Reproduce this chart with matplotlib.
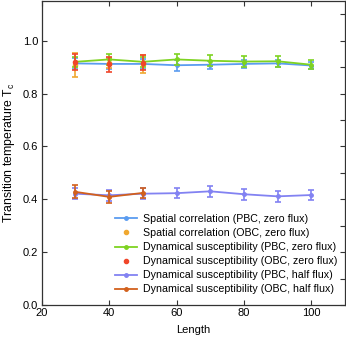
import matplotlib
matplotlib.use("Agg")
import matplotlib.pyplot as plt
from matplotlib.ticker import MultipleLocator, FormatStrFormatter

plt.rcParams['font.family'] = ['Liberation Sans', 'DejaVu Sans']

lengths = [30, 40, 50, 60, 70, 80, 90, 100]
lengths_obc = [30, 40, 50]

spatial_pbc = [0.914, 0.912, 0.912, 0.907, 0.909, 0.912, 0.914, 0.906]
spatial_pbc_err = [0.02, 0.02, 0.02, 0.02, 0.015, 0.015, 0.012, 0.012]

spatial_obc = [0.908, 0.915, 0.912]
spatial_obc_err = [0.044, 0.02, 0.035]

dyn_pbc_zero = [0.92, 0.929, 0.92, 0.929, 0.924, 0.921, 0.922, 0.909]
dyn_pbc_zero_err = [0.02, 0.022, 0.02, 0.02, 0.02, 0.02, 0.02, 0.018]

dyn_obc_zero = [0.92, 0.91, 0.917]
dyn_obc_zero_err = [0.03, 0.027, 0.027]

dyn_pbc_half = [0.421, 0.415, 0.421, 0.423, 0.43, 0.419, 0.411, 0.416]
dyn_pbc_half_err = [0.021, 0.02, 0.02, 0.02, 0.02, 0.02, 0.02, 0.018]

dyn_obc_half = [0.428, 0.409, 0.424]
dyn_obc_half_err = [0.025, 0.022, 0.02]

labels = [
    "Spatial correlation (PBC, zero flux)",
    "Spatial correlation (OBC, zero flux)",
    "Dynamical susceptibility (PBC, zero flux)",
    "Dynamical susceptibility (OBC, zero flux)",
    "Dynamical susceptibility (PBC, half flux)",
    "Dynamical susceptibility (OBC, half flux)",
]

c_blue = "#5b9cf0"
c_orange = "#f0a830"
c_green = "#7ed321"
c_red = "#f0462a"
c_purple = "#8282f2"
c_brown = "#d2601c"

fig = plt.figure(figsize=(3.46, 3.40), dpi=100)
ax = fig.add_axes([0.1205, 0.103, 0.877, 0.894])

ek = dict(fmt='none', capsize=2.5, elinewidth=1.2, capthick=1.2)

series = [
    (lengths, spatial_pbc, spatial_pbc_err, c_blue, True),
    (lengths_obc, spatial_obc, spatial_obc_err, c_orange, False),
    (lengths, dyn_pbc_zero, dyn_pbc_zero_err, c_green, True),
    (lengths_obc, dyn_obc_zero, dyn_obc_zero_err, c_red, False),
    (lengths, dyn_pbc_half, dyn_pbc_half_err, c_purple, True),
    (lengths_obc, dyn_obc_half, dyn_obc_half_err, c_brown, True),
]

handles = []
for (x, y, e, c, line), lab in zip(series, labels):
    ax.errorbar(x, y, yerr=e, ecolor=c, **ek)
    if line:
        h, = ax.plot(x, y, color=c, lw=1.3, marker='o', ms=2.5, label=lab)
    else:
        h, = ax.plot(x, y, color=c, lw=0, marker='o', ms=3, label=lab)
    handles.append(h)

ax.set_xlim(20, 110)
ax.set_ylim(0, 1.15)
ax.xaxis.set_major_locator(MultipleLocator(20))
ax.yaxis.set_major_locator(MultipleLocator(0.2))
ax.yaxis.set_major_formatter(FormatStrFormatter('%.1f'))

ax.tick_params(direction='in', length=3.5, width=0.8, labelsize=8,
               colors='#333333', top=True, right=False, pad=2.5)
ax.tick_params(axis='both', labelcolor='black')
sec = ax.secondary_yaxis('right')
sec.yaxis.set_major_locator(MultipleLocator(0.1))
sec.tick_params(direction='in', length=3.5, width=0.8, labelright=False, colors='#333333')
sec.spines['right'].set_visible(False)

for s in ax.spines.values():
    s.set_color('#333333')
    s.set_linewidth(0.9)

ax.set_xlabel("Length", fontsize=8, labelpad=5)
ax.set_ylabel("Transition temperature T$_\\mathregular{c}$", fontsize=8.8, labelpad=4)

leg = ax.legend(handles=handles, loc='lower right', bbox_to_anchor=(1.0, 0.01),
                frameon=False, fontsize=7.7, labelspacing=0.38, handlelength=2.0,
                handletextpad=0.6, borderpad=0.2)

fig.savefig("out.png", dpi=100)
